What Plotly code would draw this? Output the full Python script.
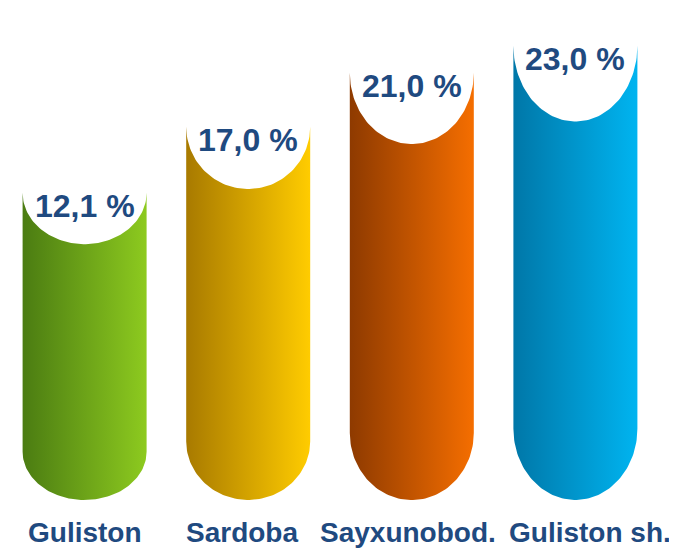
import numpy as np
import plotly.graph_objects as go

# ---- data ----
categories = ["Guliston", "Sardoba", "Sayxunobod.", "Guliston sh."]
values = [12.1, 17.0, 21.0, 23.0]
value_labels = ["12,1 %", "17,0 %", "21,0 %", "23,0 %"]
colors_dark = ["#4b7c12", "#a87a00", "#8e3a00", "#0077a8"]
colors_light = ["#8dca1f", "#ffcc00", "#f56e00", "#00b4f0"]

# ---- layout / scale constants (style) ----
OFF = 8                      # page body margin of the html page
W, H = 677 - OFF, 549 - OFF
B = 40                      # bottom margin for category labels
plot_h = H - B
px_per_unit = 13.5          # vertical scale
zero_px = 356.2 - OFF       # pixel row of value 0 (from top of figure)
bottom_px = 500 - OFF       # pixel row where bars end
x_step_px = 163.6
x0_px = 84.6 - OFF
bar_w_px = 124
label_xshift = [0, -6, -4, 15]
FONT = "Liberation Sans, Arial, sans-serif"
TXT = "#1f4a80"

ymax = zero_px / px_per_unit
ymin = ymax - plot_h / px_per_unit
base = (zero_px - bottom_px) / px_per_unit
xmin = -x0_px / x_step_px
xmax = (W - x0_px) / x_step_px
half = bar_w_px / x_step_px / 2

TOP_RATIO = 0.167   # depth of the white elliptic cut relative to bar length
BOT_RATIO = 0.157   # depth of the rounded bottom relative to bar length

fig = go.Figure()
t = np.linspace(0, np.pi, 80)
for i, (v, cd, cl) in enumerate(zip(values, colors_dark, colors_light)):
    total = v - base
    ry_t = TOP_RATIO * total
    ry_b = BOT_RATIO * total
    yb = base + ry_b
    xs = np.concatenate([i - half * np.cos(t), i + half * np.cos(t), [i - half]])
    ys = np.concatenate([v - ry_t * np.sin(t), yb - ry_b * np.sin(t), [v]])
    fig.add_trace(go.Scatter(
        x=xs, y=ys, mode="lines", fill="toself",
        line=dict(width=0, color=cl),
        fillgradient=dict(type="horizontal", colorscale=[[0, cd], [1, cl]]),
        hoverinfo="skip", showlegend=False,
    ))
    fig.add_annotation(
        x=i, y=v, text=f"<b>{value_labels[i]}</b>", showarrow=False,
        yanchor="middle", yshift=-13,
        font=dict(family=FONT, size=32, color=TXT),
    )
    fig.add_annotation(
        x=i, xref="x", y=0, yref="paper", text=f"<b>{categories[i]}</b>",
        showarrow=False, yanchor="middle", yshift=-23, xshift=label_xshift[i],
        font=dict(family=FONT, size=28, color=TXT),
    )

fig.update_layout(
    width=W, height=H,
    margin=dict(l=0, r=0, t=0, b=B, autoexpand=False),
    paper_bgcolor="white", plot_bgcolor="white",
    xaxis=dict(range=[xmin, xmax], showticklabels=False, automargin=False,
               showgrid=False, zeroline=False, showline=False, ticks="",
               fixedrange=True),
    yaxis=dict(range=[ymin, ymax], visible=False, automargin=False,
               showgrid=False, zeroline=False, fixedrange=True),
)

fig.write_html("out.html")
